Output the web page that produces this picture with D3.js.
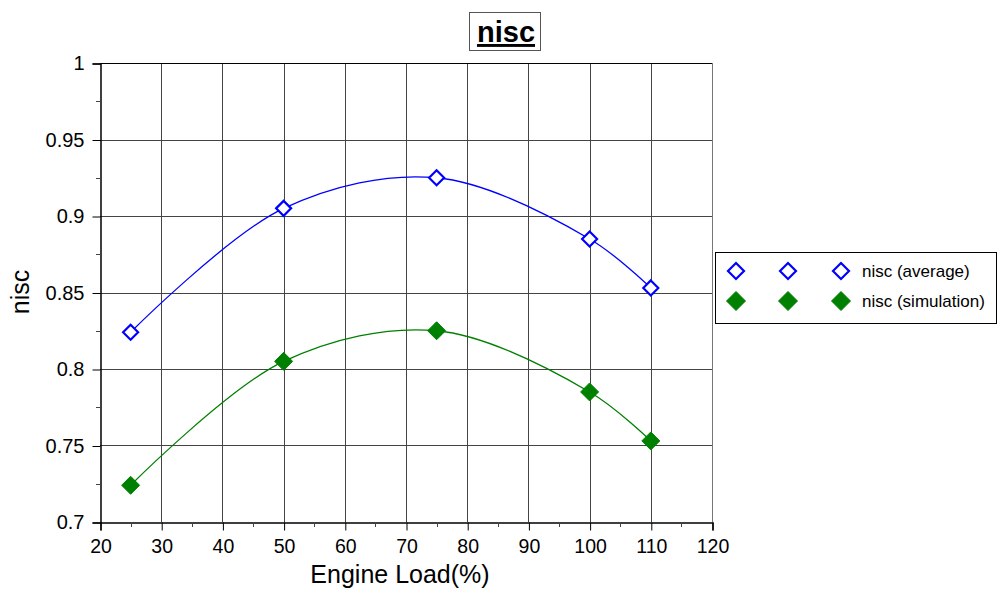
<!DOCTYPE html>
<html>
<head>
<meta charset="utf-8">
<script src="https://cdn.jsdelivr.net/npm/d3@7"></script>
<style>
  body { margin: 0; background: #fff; }
  text { font-family: Arial, "Liberation Sans", sans-serif; }
</style>
</head>
<body>
<svg id="chart" width="998" height="589"></svg>
<script>
// Engine load (%) and nisc values
const loads = [25, 50, 75, 100, 110];
const niscAverage = [0.824, 0.905, 0.925, 0.885, 0.853];
const niscSimulation = [0.724, 0.805, 0.825, 0.785, 0.753];
const xTicks = [20, 30, 40, 50, 60, 70, 80, 90, 100, 110, 120];
const yTicks = [0.7, 0.75, 0.8, 0.85, 0.9, 0.95, 1];

(function () {
const svg = d3.select("#chart");
const pl = 100, pr = 712, pt = 63, pb = 522;

const x = d3.scaleLinear().domain([20, 120]).range([pl, pr]);
const y = d3.scaleLinear().domain([0.7, 1]).range([pb, pt]);

// grid
const grid = svg.append("g");
grid.selectAll("line.v").data(xTicks.slice(1, -1)).join("line")
  .attr("x1", d => Math.round(x(d)) + 0.5).attr("x2", d => Math.round(x(d)) + 0.5)
  .attr("y1", pt).attr("y2", pb)
  .attr("stroke", "#444").attr("stroke-width", 1);
grid.selectAll("line.h").data(yTicks.slice(1, -1)).join("line")
  .attr("y1", d => Math.round(y(d)) + 0.5).attr("y2", d => Math.round(y(d)) + 0.5)
  .attr("x1", pl).attr("x2", pr)
  .attr("stroke", "#444").attr("stroke-width", 1);

// frame: top and right
svg.append("line").attr("x1", pl).attr("x2", pr + 0.5).attr("y1", pt + 0.5).attr("y2", pt + 0.5)
  .attr("stroke", "#000");
svg.append("line").attr("x1", pr + 0.5).attr("x2", pr + 0.5).attr("y1", pt).attr("y2", pb)
  .attr("stroke", "#777");

// x axis
const xMinor = d3.range(25, 120, 10);
const xAxis = d3.axisBottom(x).tickValues(xTicks).tickSize(8).tickPadding(9).tickFormat(d3.format("d"));
const gx = svg.append("g").attr("transform", `translate(0.5,${pb + 0.5})`).call(xAxis);
gx.select(".domain").attr("stroke", "#000").attr("stroke-width", 1.5);
gx.selectAll(".tick text").attr("font-size", 19.5).attr("fill", "#000");
gx.selectAll(".tick line").attr("stroke", "#000");
svg.append("g").selectAll("line").data(xMinor).join("line")
  .attr("x1", d => Math.round(x(d)) + 0.5).attr("x2", d => Math.round(x(d)) + 0.5)
  .attr("y1", pb).attr("y2", pb + 5).attr("stroke", "#444");

// y axis
const yMinor = d3.range(0.725, 1, 0.05);
const yAxis = d3.axisLeft(y).tickValues(yTicks).tickSize(8).tickPadding(8).tickFormat(d => String(+d.toFixed(2)));
const gy = svg.append("g").attr("transform", `translate(${pl + 0.5},0.5)`).call(yAxis);
gy.select(".domain").attr("stroke", "#000").attr("stroke-width", 1.5);
gy.selectAll(".tick text").attr("font-size", 20).attr("fill", "#000");
gy.selectAll(".tick line").attr("stroke", "#000");
svg.append("g").selectAll("line").data(yMinor).join("line")
  .attr("y1", d => Math.round(y(d)) + 0.5).attr("y2", d => Math.round(y(d)) + 0.5)
  .attr("x1", pl - 4).attr("x2", pl).attr("stroke", "#444");

// axis titles
svg.append("text").attr("x", 400).attr("y", 583).attr("text-anchor", "middle")
  .attr("font-size", 25).text("Engine Load(%)");
svg.append("text").attr("transform", "translate(29,292) rotate(-90)").attr("text-anchor", "middle")
  .attr("font-size", 25).text("nisc");

// chart title with box
svg.append("rect").attr("x", 469.5).attr("y", 12.5).attr("width", 71).attr("height", 38)
  .attr("fill", "#fff").attr("stroke", "#555");
svg.append("text").attr("x", 506).attr("y", 42).attr("text-anchor", "middle")
  .attr("font-size", 29).attr("font-weight", "bold").attr("text-decoration", "underline")
  .text("nisc");

// series
const series = [
  { name: "nisc (average)", values: niscAverage, color: "#0000ff", filled: false },
  { name: "nisc (simulation)", values: niscSimulation, color: "#008000", filled: true }
];

const line = d3.line().x(d => x(d[0])).y(d => y(d[1])).curve(d3.curveCatmullRom);

function diamond(g, cx, cy, s, big) {
  const r = s.filled ? (big ? 9.5 : 9) : (big ? 8 : 7.5);
  g.append("path")
    .attr("d", `M${cx},${cy - r}L${cx + r},${cy}L${cx},${cy + r}L${cx - r},${cy}Z`)
    .attr("fill", s.filled ? s.color : "#fff")
    .attr("stroke", s.color).attr("stroke-width", s.filled ? 1 : 2.2);
}

series.forEach(s => {
  const pts = loads.map((l, i) => [l, s.values[i]]);
  svg.append("path").datum(pts).attr("d", line)
    .attr("fill", "none").attr("stroke", s.color).attr("stroke-width", 1.3);
  const g = svg.append("g");
  pts.forEach(p => diamond(g, x(p[0]), y(p[1]), s, false));
});

// legend
svg.append("rect").attr("x", 715.5).attr("y", 252.5).attr("width", 281).attr("height", 71)
  .attr("fill", "#fff").attr("stroke", "#000");
series.forEach((s, i) => {
  const cy = 271 + i * 30;
  const g = svg.append("g");
  [736, 788, 841].forEach(cx => diamond(g, cx, cy, s, true));
  svg.append("text").attr("x", 862).attr("y", cy + 6).attr("font-size", 17).text(s.name);
});
})();
</script>
</body>
</html>
